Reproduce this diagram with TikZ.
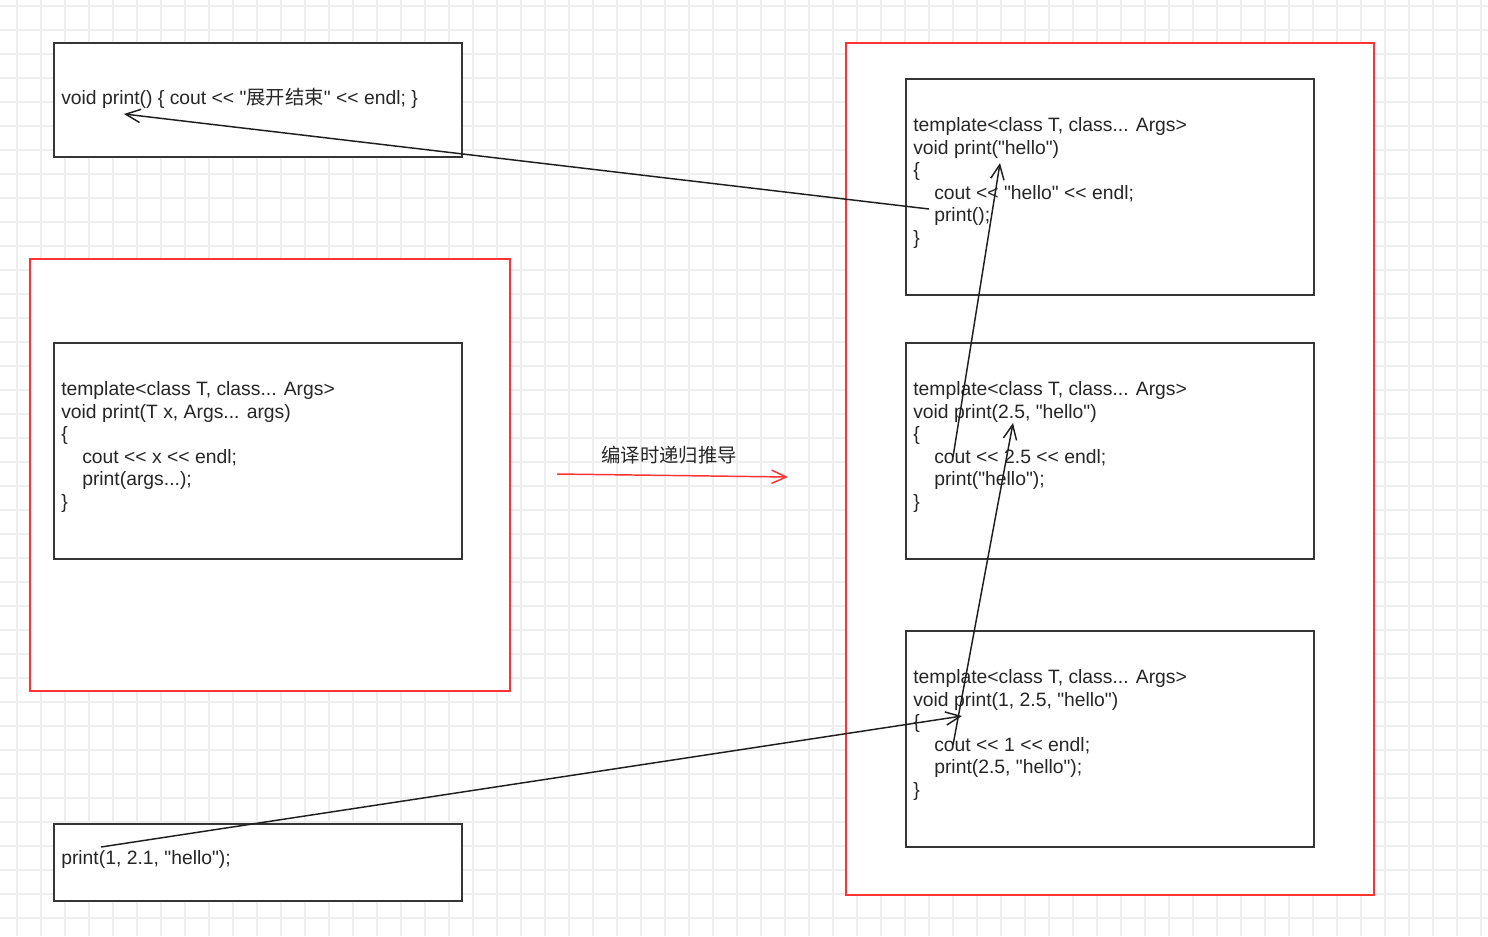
\documentclass[tikz,border=0pt]{standalone}
\usepackage{fontspec}
\setmainfont{Liberation Sans}[Ligatures=TeXOff]
\newfontfamily\cjk{Noto Sans CJK SC}
\usetikzlibrary{arrows.meta}
\definecolor{gridgray}{RGB}{238,238,238}
\definecolor{boxline}{RGB}{54,54,54}
\definecolor{framered}{RGB}{255,51,51}

\begin{document}
\begin{tikzpicture}[x=0.75pt, y=-0.75pt,
  gridline/.style={gridgray, line width=1.1pt},
  redframe/.style={draw=framered, line width=1.5pt, fill=white, anchor=north west, inner sep=0pt},
  codebox/.style={draw=boxline, line width=1.5pt, fill=white, anchor=north west, inner sep=0pt, minimum width=306pt},
  code/.style={font=\fontsize{14.5}{16.9}\selectfont, text=black!85, align=left, inner sep=0pt, anchor=west},
  arr/.style={-{Straight Barb[length=11pt, width=10pt]}, line width=1.1pt, draw=black!88},
  redarr/.style={arr, draw=framered}]
\useasboundingbox (0,0) rectangle (1488,936);
% background grid
\foreach \gx in {17,41,...,1481} \draw[gridline] (\gx,0) -- (\gx,936);
\foreach \gy in {6,30,...,918} \draw[gridline] (0,\gy) -- (1488,\gy);

% frames
\node[redframe, minimum width=360pt, minimum height=324pt] (frameL) at (29,258) {};
\node[redframe, minimum width=396pt, minimum height=639pt] (frameR) at (845,42) {};

% left column
\node[codebox, minimum height=85.5pt] (endBox) at (53,42) {};
\node[codebox, minimum height=162pt] (tplBox) at (53,342) {};
\node[codebox, minimum height=57.75pt] (callBox) at (53,823) {};
\node[code, anchor=base west] (endTxt) at (61,104) {void print() \{ cout <{}< "{\cjk 展开结束}" <{}< endl; \}};
\node[code] (tplTxt) at (61,447) {template<class T, class... Args>\\ void print(T x, Args... args)\\ \{\\ \hspace*{15.75pt}cout <{}< x <{}< endl;\\ \hspace*{15.75pt}print(args...);\\ \}};
\node[code, anchor=base west] (callTxt) at (61,864) {print(1, 2.1, "hello");};

% right column
\node[codebox, minimum height=162pt] (expHello) at (905,78) {};
\node[codebox, minimum height=162pt] (expTwo) at (905,342) {};
\node[codebox, minimum height=162pt] (expOne) at (905,630) {};
\node[code] (helloTxt) at (913,183) {template<class T, class... Args>\\ void print("hello")\\ \{\\ \hspace*{15.75pt}cout <{}< "hello" <{}< endl;\\ \hspace*{15.75pt}print();\\ \}};
\node[code] (twoTxt) at (913,447) {template<class T, class... Args>\\ void print(2.5, "hello")\\ \{\\ \hspace*{15.75pt}cout <{}< 2.5 <{}< endl;\\ \hspace*{15.75pt}print("hello");\\ \}};
\node[code] (oneTxt) at (913,735) {template<class T, class... Args>\\ void print(1, 2.5, "hello")\\ \{\\ \hspace*{15.75pt}cout <{}< 1 <{}< endl;\\ \hspace*{15.75pt}print(2.5, "hello");\\ \}};

% deduction label
\node[font=\fontsize{14.5}{16.9}\selectfont\cjk, text=black!85, inner sep=0pt] (deduce) at (669,455) {编译时递归推导};
\coordinate (deduceFrom) at (557,474);
\coordinate (deduceTo) at (788,477);

% call chain points
\coordinate (callStart) at (101,847);
\coordinate (oneHead) at (962,716);
\coordinate (oneCall) at (953,745);
\coordinate (twoHead) at (1013,423);
\coordinate (twoCall) at (953,457);
\coordinate (helloHead) at (1000,163);
\coordinate (helloCall) at (929,209);
\coordinate (endHead) at (124,114);

\draw[arr] (callStart) -- (oneHead);
\draw[arr] (oneCall) -- (twoHead);
\draw[arr] (twoCall) -- (helloHead);
\draw[arr] (helloCall) -- (endHead);
\draw[redarr] (deduceFrom) -- (deduceTo);
\end{tikzpicture}
\end{document}
